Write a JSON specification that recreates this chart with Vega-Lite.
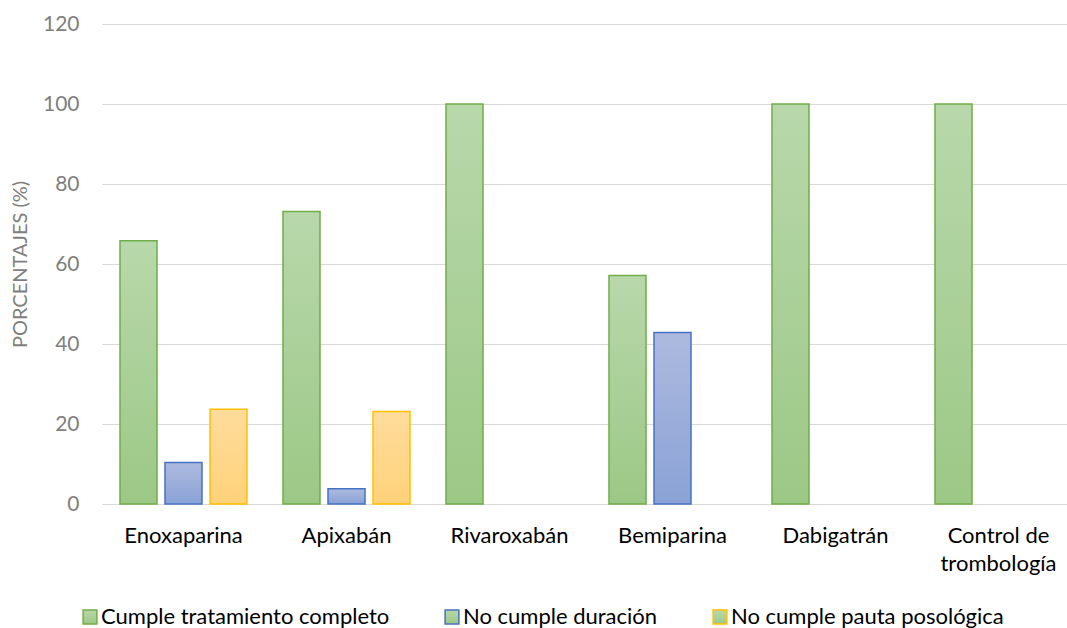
{
  "$schema": "https://vega.github.io/schema/vega-lite/v6.json",
  "width": 965,
  "height": 480,
  "autosize": {"type": "none"},
  "padding": {"left": 102, "top": 24, "right": 0, "bottom": 124},
  "background": "white",
  "data": {
    "values": [
      {"farmaco": "Enoxaparina", "serie": "Cumple tratamiento completo", "valor": 65.8},
      {"farmaco": "Enoxaparina", "serie": "No cumple duración", "valor": 10.4},
      {"farmaco": "Enoxaparina", "serie": "No cumple pauta posológica", "valor": 23.7},
      {"farmaco": "Apixabán", "serie": "Cumple tratamiento completo", "valor": 73.1},
      {"farmaco": "Apixabán", "serie": "No cumple duración", "valor": 3.8},
      {"farmaco": "Apixabán", "serie": "No cumple pauta posológica", "valor": 23.1},
      {"farmaco": "Rivaroxabán", "serie": "Cumple tratamiento completo", "valor": 100},
      {"farmaco": "Bemiparina", "serie": "Cumple tratamiento completo", "valor": 57.1},
      {"farmaco": "Bemiparina", "serie": "No cumple duración", "valor": 42.9},
      {"farmaco": "Dabigatrán", "serie": "Cumple tratamiento completo", "valor": 100},
      {"farmaco": "Control de trombología", "serie": "Cumple tratamiento completo", "valor": 100}
    ]
  },
  "encoding": {
    "x": {
      "field": "farmaco",
      "type": "nominal",
      "sort": ["Enoxaparina", "Apixabán", "Rivaroxabán", "Bemiparina", "Dabigatrán", "Control de trombología"],
      "scale": {"paddingInner": 0, "paddingOuter": 0, "range": [0, 978]},
      "axis": {
        "title": null,
        "labelAngle": 0,
        "domain": false,
        "ticks": false,
        "labelPadding": 21,
        "labelFont": "Lato",
        "labelFontSize": 22,
        "labelColor": "#000000",
        "labelLineHeight": 28,
        "labelLimit": 300,
        "labelExpr": "datum.label == 'Control de trombología' ? ['Control de', 'trombología'] : datum.label"
      }
    },
    "xOffset": {
      "field": "serie",
      "type": "nominal",
      "scale": {
        "domain": ["Cumple tratamiento completo", "No cumple duración", "No cumple pauta posológica"],
        "paddingInner": 0.178, "paddingOuter": 0.4
      }
    },
    "y": {
      "field": "valor",
      "type": "quantitative",
      "scale": {"domain": [0, 120]},
      "axis": {
        "title": "PORCENTAJES (%)",
        "titleFont": "Lato",
        "titleFontSize": 20,
        "titleFontWeight": "normal",
        "titleColor": "#7f7f7f",
        "titlePadding": 12,
        "values": [0, 20, 40, 60, 80, 100, 120],
        "domain": false,
        "ticks": false,
        "labelPadding": 23,
        "labelFont": "Lato",
        "labelFontSize": 21,
        "labelColor": "#7f7f7f",
        "gridColor": "#d9d9d9",
        "gridWidth": 1.2
      }
    },
    "stroke": {
      "field": "serie",
      "type": "nominal",
      "scale": {
        "domain": ["Cumple tratamiento completo", "No cumple duración", "No cumple pauta posológica"],
        "range": ["#70ad47", "#4472c4", "#ffc000"]
      },
      "legend": {
        "title": null,
        "orient": "none",
        "direction": "horizontal",
        "legendX": -23,
        "legendY": 582,
        "symbolType": "square",
        "symbolSize": 190,
        "symbolStrokeWidth": 1.5,
        "symbolOpacity": 1,
        "labelFont": "Lato",
        "labelFontSize": 22,
        "labelColor": "#000000",
        "labelLimit": 500,
        "columnPadding": 51,
        "labelOffset": 0,
        "encode": {
          "symbols": {
            "fill": {"value": {"expr": "datum.value == 'Cumple tratamiento completo' ? '#a9cf97' : datum.value == 'No cumple duración' ? '#9bafdb' : '#ffd78b'"}},
            "fillOpacity": {"value": 1}
          }
        }
      }
    }
  },
  "layer": [
    {
      "transform": [{"filter": "datum.serie == 'Cumple tratamiento completo'"}],
      "mark": {
        "type": "bar", "strokeWidth": 1.5,
        "fill": {"gradient": "linear", "x1": 0, "y1": 0, "x2": 0, "y2": 1, "stops": [{"offset": 0, "color": "#b8d8ab"}, {"offset": 1, "color": "#9cc886"}]}
      }
    },
    {
      "transform": [{"filter": "datum.serie == 'No cumple duración'"}],
      "mark": {
        "type": "bar", "strokeWidth": 1.5,
        "fill": {"gradient": "linear", "x1": 0, "y1": 0, "x2": 0, "y2": 1, "stops": [{"offset": 0, "color": "#adbadf"}, {"offset": 1, "color": "#8aa2d6"}]}
      }
    },
    {
      "transform": [{"filter": "datum.serie == 'No cumple pauta posológica'"}],
      "mark": {
        "type": "bar", "strokeWidth": 1.5,
        "fill": {"gradient": "linear", "x1": 0, "y1": 0, "x2": 0, "y2": 1, "stops": [{"offset": 0, "color": "#ffdc9c"}, {"offset": 1, "color": "#ffd27a"}]}
      }
    }
  ],
  "config": {
    "view": {"stroke": null}
  }
}
